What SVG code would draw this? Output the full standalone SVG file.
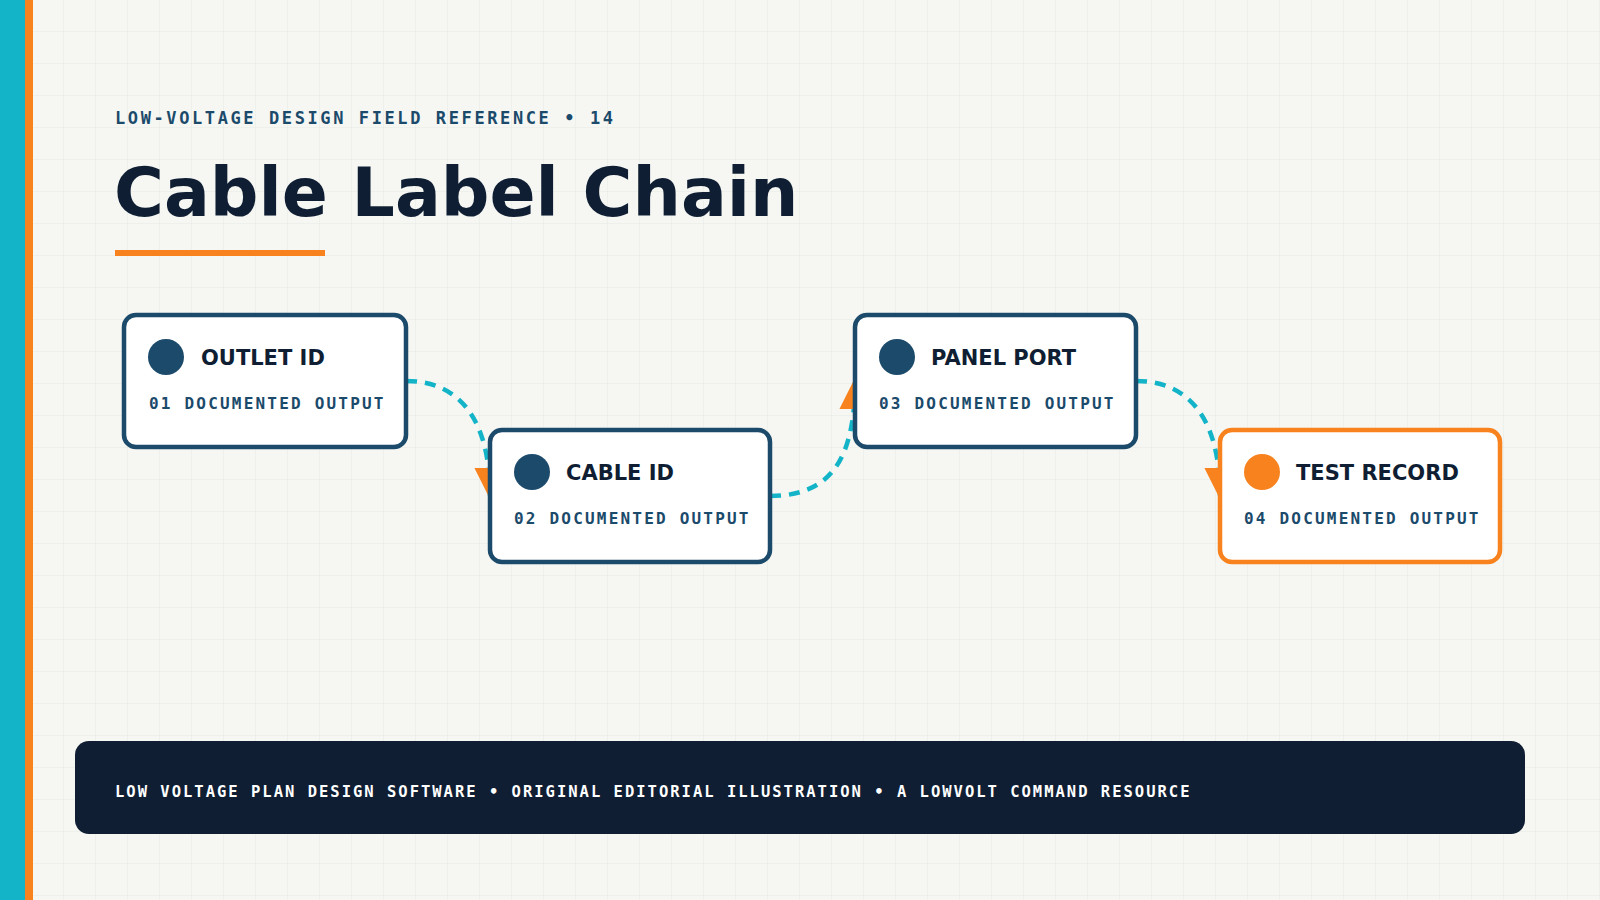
<svg xmlns="http://www.w3.org/2000/svg" width="1600" height="900" viewBox="0 0 1600 900">
<defs>
<pattern id="grid" width="32" height="32" patternUnits="userSpaceOnUse"><path d="M32 0V32H0" fill="none" stroke="#e4e8e2" stroke-width="1"/></pattern>
<marker id="arr" viewBox="0 0 10 10" refX="9" refY="5" markerWidth="7" markerHeight="7" orient="auto"><path d="M0 0L10 5L0 10z" fill="#f7821e"/></marker>
<style>
.node rect{fill:#fff;stroke:#1b4a6b;stroke-width:4.5}
.node circle{fill:#1b4a6b}
.t{font-family:"DejaVu Sans",sans-serif;font-weight:bold;font-size:21px;fill:#0f1e33}
.s{font-family:"DejaVu Sans Mono",monospace;font-weight:bold;font-size:16px;fill:#1b4a6b;letter-spacing:2.2px}
.c{fill:none;stroke:#14b4c8;stroke-width:4.5;stroke-dasharray:11 8}
</style>
</defs>
<rect width="1600" height="900" fill="#f6f7f3"/>
<rect width="1600" height="900" fill="url(#grid)"/>
<rect x="0" y="0" width="25" height="900" fill="#14b4c8"/>
<rect x="25" y="0" width="8" height="900" fill="#f7821e"/>
<text x="115" y="124" font-family="DejaVu Sans Mono, monospace" font-weight="bold" font-size="17" fill="#1b4a6b" letter-spacing="2.6">LOW-VOLTAGE DESIGN FIELD REFERENCE • 14</text>
<text x="114" y="216" font-family="DejaVu Sans, sans-serif" font-weight="bold" font-size="68" fill="#0f1e33">Cable Label Chain</text>
<rect x="115" y="250" width="210" height="6" fill="#f7821e"/>
<g id="connectors">
<path class="c" d="M406 381 C460 381 490 420 490 496" marker-end="url(#arr)"/>
<path class="c" d="M770 496 C830 496 855 460 855 381" marker-end="url(#arr)"/>
<path class="c" d="M1136 381 C1190 381 1220 420 1220 496" marker-end="url(#arr)"/>
</g>
<g id="n1" class="node"><rect x="124" y="315" width="282" height="132" rx="12"/><circle cx="166" cy="357" r="18"/><text class="t" x="201" y="365">OUTLET ID</text><text class="s" x="149" y="409">01 DOCUMENTED OUTPUT</text></g>
<g id="n2" class="node"><rect x="490" y="430" width="280" height="132" rx="12"/><circle cx="532" cy="472" r="18"/><text class="t" x="566" y="480">CABLE ID</text><text class="s" x="514" y="524">02 DOCUMENTED OUTPUT</text></g>
<g id="n3" class="node"><rect x="855" y="315" width="281" height="132" rx="12"/><circle cx="897" cy="357" r="18"/><text class="t" x="931" y="365">PANEL PORT</text><text class="s" x="879" y="409">03 DOCUMENTED OUTPUT</text></g>
<g id="n4" class="node"><rect x="1220" y="430" width="280" height="132" rx="12" style="stroke:#f7821e"/><circle cx="1262" cy="472" r="18" style="fill:#f7821e"/><text class="t" x="1296" y="480">TEST RECORD</text><text class="s" x="1244" y="524">04 DOCUMENTED OUTPUT</text></g>
<rect x="75" y="741" width="1450" height="93" rx="14" fill="#0f1e33"/>
<text x="115" y="797" font-family="DejaVu Sans Mono, monospace" font-weight="bold" font-size="15.5" fill="#ffffff" letter-spacing="2">LOW VOLTAGE PLAN DESIGN SOFTWARE • ORIGINAL EDITORIAL ILLUSTRATION • A LOWVOLT COMMAND RESOURCE</text>
</svg>
